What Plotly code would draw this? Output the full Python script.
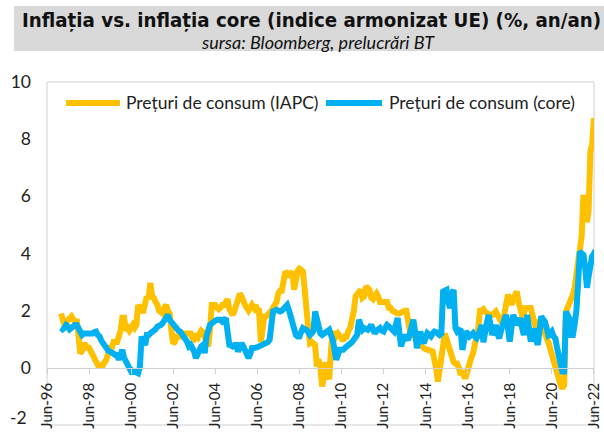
import plotly.graph_objects as go
import pandas as pd

# Monthly observations, Jan-1997 .. Jun-2022 (month-end dates)
start_month = "1997-01-31"
n_months = 306

iapc = (
    [1.9, 1.6, 1.5, 1.6, 1.7, 1.7, 1.8, 1.7, 1.6, 1.7, 0.7, 0.5] +        # 1997
    [0.6, 0.8, 0.8, 0.7, 0.7, 0.6, 0.4, 0.35, 0.2, 0.1, 0.1, 0.1] +       # 1998
    [0.1, 0.2, 0.3, 0.5, 0.7, 0.7, 0.9, 0.9, 0.9, 1.1, 1.3, 1.75] +       # 1999
    [1.75, 1.3, 1.4, 1.3, 1.4, 1.5, 1.4, 1.5, 2.2, 2.1, 2.0, 2.0] +       # 2000
    [2.2, 2.5, 2.4, 2.97, 2.5, 2.45, 2.3, 2.2, 2.0, 1.9, 1.9, 2.1] +      # 2001
    [2.2, 2.0, 1.9, 1.3, 0.85, 0.9, 1.1, 1.1, 1.1, 1.2, 1.2, 1.2] +       # 2002
    [1.25, 1.25, 1.2, 1.05, 1.0, 1.1, 1.05, 1.2, 1.3, 1.25, 1.1, 0.95] +  # 2003
    [0.75, 1.3, 2.2, 2.2, 2.2, 2.1, 2.05, 2.1, 2.2, 2.2, 2.3, 2.4] +      # 2004
    [2.05, 1.95, 1.85, 2.0, 2.2, 2.3, 2.6, 2.5, 2.3, 2.2, 2.1, 2.0] +     # 2005
    [2.1, 2.2, 2.1, 2.2, 2.0, 2.0, 0.9, 1.4, 1.8, 1.8, 1.85, 1.9] +       # 2006
    [2.0, 2.1, 2.2, 2.3, 2.6, 2.7, 2.7, 3.0, 3.37, 3.3, 3.25, 3.3] +      # 2007
    [3.37, 2.73, 3.3, 3.4, 3.47, 3.4, 3.37, 2.73, 1.8, 1.4, 0.86, 0.9] +  # 2008
    [0.85, 0.8, 0.05, 0.3, 0.0, -0.65, -0.3, 0.2, -0.1, -0.4, 0.63, 1.2] +  # 2009
    [1.2, 1.1, 1.2, 1.1, 1.0, 0.95, 1.1, 1.1, 1.3, 1.4, 1.7, 1.97] +      # 2010
    [2.5, 2.6, 2.7, 2.73, 2.45, 2.5, 2.85, 2.8, 2.73, 2.45, 2.4, 2.5] +   # 2011
    [2.6, 2.5, 2.3, 2.3, 2.3, 2.35, 2.3, 2.1, 2.1, 2.0, 1.95, 1.9] +      # 2012
    [1.9, 1.9, 1.95, 2.0, 2.0, 2.0, 1.5, 1.3, 1.27, 1.1, 1.05, 0.95] +    # 2013
    [0.93, 0.8, 0.7, 0.7, 0.65, 0.65, 0.65, 0.6, 0.57, 0.3, 0.0, -0.48] + # 2014
    [0.0, 0.1, 0.8, 1.2, 1.0, 0.8, 0.55, 0.4, 0.2, 0.15, 0.15, 0.0] +     # 2015
    [-0.25, -0.1, -0.3, -0.3, 0.0, 0.1, 0.35, 0.5, 0.93, 1.1, 1.4, 2.0] + # 2016
    [2.0, 2.05, 1.95, 1.9, 1.85, 1.85, 1.85, 1.9, 1.97, 1.85, 1.74, 1.6] + # 2017
    [1.5, 1.9, 2.33, 2.56, 2.4, 2.2, 2.4, 2.56, 2.67, 2.3, 2.09, 1.85] +  # 2018
    [1.9, 2.09, 2.09, 2.09, 2.09, 1.85, 1.62, 1.38, 1.5, 1.62, 1.74, 1.4] + # 2019
    [1.15, 1.05, 0.9, 0.69, 0.34, 0.1, -0.13, -0.3, -0.48, -0.6, -0.72, -0.6] + # 2020
    [1.97, 2.1, 2.33, 2.45, 2.56, 2.8, 3.26, 3.6, 4.31, 4.6, 6.05, 5.7] + # 2021
    [5.1, 5.5, 7.56, 7.8, 8.73, 8.2]                                      # 2022
)

core = (
    [1.4, 1.35, 1.4, 1.5, 1.45, 1.35, 1.4, 1.5, 1.5, 1.5, 1.4, 1.3] +     # 1997
    [1.15, 1.2, 1.2, 1.15, 1.15, 1.2, 1.2, 1.25, 1.27, 1.15, 1.1, 0.95] + # 1998
    [0.86, 0.8, 0.65, 0.6, 0.57, 0.55, 0.5, 0.45, 0.45, 0.28, 0.45, 0.63] + # 1999
    [0.35, 0.22, 0.1, 0.05, -0.13, -0.1, -0.13, -0.15, -0.19, 0.04, 1.1, 0.9] + # 2000
    [0.8, 1.15, 1.15, 1.21, 1.25, 1.3, 1.35, 1.44, 1.45, 1.5, 1.56, 1.7] + # 2001
    [1.8, 1.85, 1.68, 1.6, 1.5, 1.45, 1.39, 1.3, 1.27, 1.2, 1.1, 1.0] +   # 2002
    [0.9, 0.75, 0.8, 0.7, 0.57, 0.34, 0.5, 0.69, 0.75, 0.8, 0.51, 1.1] +  # 2003
    [1.39, 1.5, 1.55, 1.62, 1.65, 1.68, 1.68, 1.68, 1.62, 1.68, 1.74, 1.27] + # 2004
    [0.8, 0.78, 0.75, 0.8, 0.8, 0.57, 0.7, 0.86, 0.75, 0.63, 0.5, 0.34] + # 2005
    [0.5, 0.69, 0.69, 0.69, 0.72, 0.75, 0.78, 0.8, 0.82, 0.86, 0.9, 0.98] + # 2006
    [1.85, 1.97, 2.0, 2.03, 2.0, 1.97, 2.0, 2.09, 2.15, 2.2, 2.03, 1.79] + # 2007
    [1.56, 1.33, 1.15, 1.1, 1.1, 1.25, 1.39, 1.35, 1.33, 1.25, 1.15, 1.21] + # 2008
    [1.3, 1.97, 1.62, 1.33, 1.2, 1.15, 1.2, 1.27, 1.3, 1.33, 1.15, 0.98] + # 2009
    [0.63, 0.28, 0.45, 0.63, 0.63, 0.63, 0.7, 0.75, 0.78, 0.8, 0.9, 0.98] + # 2010
    [1.05, 1.15, 1.68, 1.45, 1.33, 1.39, 1.37, 1.33, 1.4, 1.5, 1.35, 1.21] + # 2011
    [1.3, 1.35, 1.39, 1.3, 1.27, 1.4, 1.5, 1.45, 1.39, 1.3, 1.27, 1.5] +  # 2012
    [1.74, 1.27, 0.75, 0.95, 1.15, 1.05, 0.98, 1.2, 1.44, 1.68, 1.27, 0.69] + # 2013
    [1.0, 1.27, 1.05, 0.86, 1.05, 1.21, 1.15, 1.10, 1.2, 1.27, 1.25, 1.21] + # 2014
    [1.15, 1.2, 2.67, 2.7, 2.73, 2.3, 2.09, 2.6, 2.73, 1.4, 1.27, 1.33] + # 2015
    [1.3, 0.63, 0.9, 1.27, 1.2, 1.10, 1.15, 1.21, 1.1, 1.04, 1.15, 1.27] + # 2016
    [1.5, 0.9, 1.38, 1.6, 1.85, 1.5, 1.15, 1.3, 1.5, 1.2, 1.03, 1.3] +    # 2017
    [1.62, 1.7, 1.85, 1.4, 0.92, 1.4, 1.85, 1.7, 1.5, 1.6, 1.74, 1.4] +   # 2018
    [1.15, 1.5, 1.85, 1.4, 0.92, 1.2, 1.38, 1.0, 0.8, 1.3, 1.8, 1.7] +    # 2019
    [1.62, 1.4, 1.15, 1.2, 1.27, 1.1, 1.03, 0.69, 0.4, 0.1, -0.13, -0.13] + # 2020
    [1.97, 1.85, 1.74, 1.15, 1.15, 1.5, 2.0, 3.0, 4.07, 4.0, 3.96, 3.5] + # 2021
    [2.8, 3.2, 3.73, 3.9, 4.0, 4.1]                                       # 2022
)

series_names = ["Prețuri de consum (IAPC)", "Prețuri de consum (core)"]
series_colors = ["#FFC000", "#00B0F0"]
y_ticks = [0, 2, 4, 6, 8, 10]
y_bottom_label = "-2"
title_text = "Inflația vs. inflația core (indice armonizat UE) (%, an/an)"
subtitle_text = "sursa: Bloomberg, prelucrări BT"

dates = pd.date_range(start_month, periods=n_months, freq="ME")

# layout geometry (pixels)
L, R, T, B = 47, 10, 82, 9
W, H = 604, 434
PW, PH = W - L - R, H - T - B


def px_x(x):
    return (x - L) / PW


def px_y(y):
    return (H - B - y) / PH


fig = go.Figure()
for vals, name, col in zip([iapc, core], series_names, series_colors):
    fig.add_trace(go.Scatter(x=dates, y=vals, mode="lines", name=name,
                             line=dict(color=col, width=6), showlegend=False))

body_font = "Lato, 'Open Sans', sans-serif"
txt_col = "#222222"
fig.update_layout(
    width=W, height=H,
    margin=dict(l=L, r=R, t=T, b=B, autoexpand=False),
    paper_bgcolor="white", plot_bgcolor="white",
    font=dict(family=body_font, size=17, color=txt_col),
    xaxis=dict(
        range=["1996-06-01", "2022-06-02"], automargin=False,
        tick0="1996-06-01", dtick="M24", tickformat="%b-%y",
        tickangle=-90, ticks="outside", ticklen=5, tickcolor="#d0d0d0",
        ticklabelstandoff=3, ticklabeloverflow="allow",
        showline=True, linecolor="#d0d0d0", linewidth=1,
        showgrid=False, zeroline=False,
        anchor="free", position=1/6,
        tickfont=dict(size=15, color=txt_col),
    ),
    yaxis=dict(
        range=[-2, 10], tickvals=y_ticks, ticks="", automargin=False,
        showgrid=False, zeroline=False, showline=False,
        ticklabelstandoff=15,
        tickfont=dict(size=17.5, color=txt_col),
    ),
)

# bottom y label, lifted slightly as in the original
fig.add_annotation(text=y_bottom_label, xref="paper", yref="paper",
                   x=px_x(29), y=px_y(417), showarrow=False,
                   xanchor="right", yanchor="middle",
                   font=dict(family=body_font, size=17.5, color=txt_col))

# plot-area frame
fig.add_shape(type="rect", xref="paper", yref="paper", x0=0, x1=1, y0=0, y1=1,
              line=dict(color="#d0d0d0", width=1), layer="below")

# title band
fig.add_shape(type="rect", xref="paper", yref="paper",
              x0=px_x(14), x1=px_x(604), y0=px_y(51), y1=px_y(6),
              fillcolor="#d9d9d9", line=dict(width=0), layer="below")
fig.add_annotation(text="<b>" + title_text + "</b>", xref="paper", yref="paper",
                   x=px_x(311), y=px_y(20), showarrow=False,
                   xanchor="center", yanchor="middle",
                   font=dict(family="'Liberation Sans Narrow', 'DejaVu Sans Condensed', sans-serif",
                             size=20.3, color="#111111"))
fig.add_annotation(text="<i>" + subtitle_text + "</i>", xref="paper", yref="paper",
                   x=px_x(318), y=px_y(42), showarrow=False,
                   xanchor="center", yanchor="middle",
                   font=dict(family=body_font, size=18, color="#111111"))

# legend (drawn manually to mimic the long sample lines of the original)
leg_y = px_y(103)
leg_items = [(66, 120, 124), (326, 382, 387)]
for (xa, xb, xt), name, col in zip(leg_items, series_names, series_colors):
    fig.add_shape(type="line", xref="paper", yref="paper",
                  x0=px_x(xa), x1=px_x(xb), y0=leg_y, y1=leg_y,
                  line=dict(color=col, width=6))
    fig.add_annotation(text=name, xref="paper", yref="paper",
                       x=px_x(xt), y=leg_y, showarrow=False,
                       xanchor="left", yanchor="middle",
                       font=dict(family=body_font, size=17.5, color=txt_col))

# remove the browser's default page margin so the figure sits at (0, 0)
fig.write_html("out.html",
               config={"displayModeBar": False},
               post_script="document.body.style.margin='0';document.body.style.padding='0';")
